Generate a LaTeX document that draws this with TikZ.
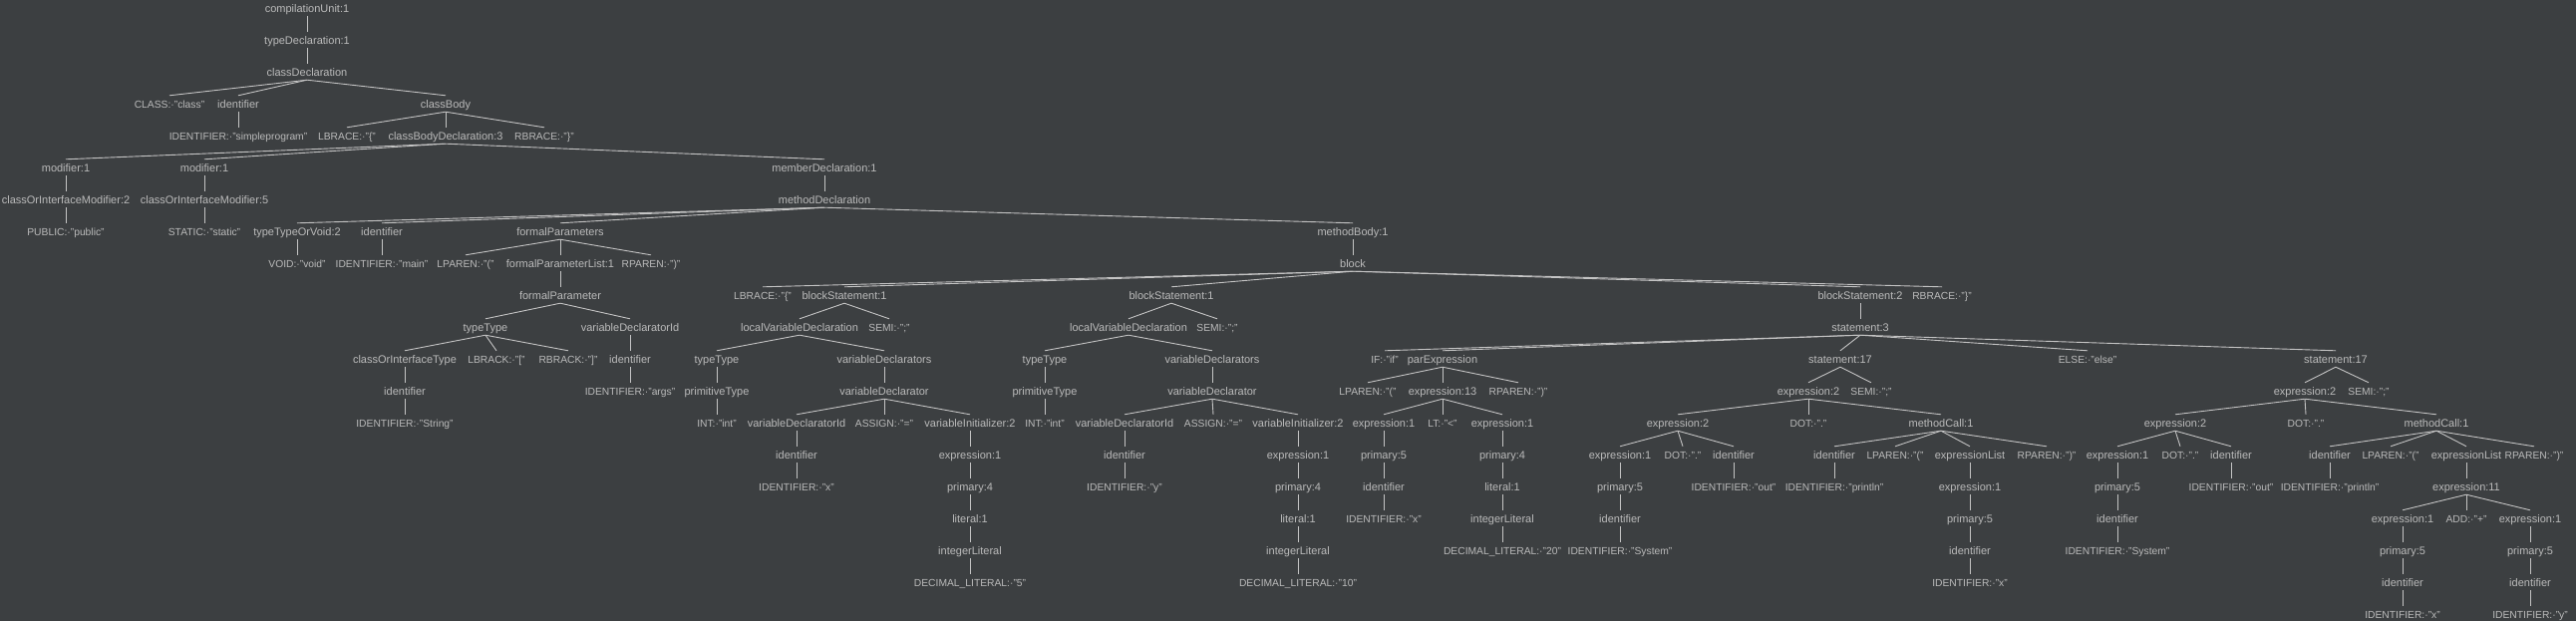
\documentclass[tikz,border=0pt]{standalone}
\usepackage{fontspec}
\setmainfont{Liberation Sans}
\definecolor{bg}{HTML}{3C3F41}
\definecolor{txt}{HTML}{BBBBBB}
\definecolor{ln}{HTML}{C4C4C4}
\tikzset{
  t/.style={text=txt, font=\fontsize{11}{13}\selectfont, inner xsep=0pt, inner ysep=0pt,
            text height=12.5pt, text depth=3.5pt, anchor=base},
  k/.style={t, font=\fontsize{10.3}{13}\selectfont},
  edge/.style={draw=ln, line width=0.9pt}
}
\newcommand\tnode[4]{\node[t] (#1) at (#2,{12.5+32*#3}) {#4};}
\newcommand\knode[4]{\node[k] (#1) at (#2,{12.5+32*#3}) {#4};}
\begin{document}
\begin{tikzpicture}[x=1pt,y=-1pt]
\fill[bg] (0,0) rectangle (2584,623);
\useasboundingbox (0,0) rectangle (2584,623);
% row 0-2
\tnode{cu}{308}{0}{compilationUnit:1}
\tnode{td}{308}{1}{typeDeclaration:1}
\tnode{cd}{308}{2}{classDeclaration}
% row 3
\knode{cls}{170}{3}{CLASS:·"class"}
\tnode{cid}{239}{3}{identifier}
\tnode{cb}{447}{3}{classBody}
% row 4
\knode{cidT}{239}{4}{IDENTIFIER:·"simpleprogram"}
\knode{lb1}{348}{4}{LBRACE:·"\{"}
\tnode{cbd}{447}{4}{classBodyDeclaration:3}
\knode{rb1}{546}{4}{RBRACE:·"\}"}
% row 5
\tnode{mod1}{66}{5}{modifier:1}
\tnode{mod2}{205}{5}{modifier:1}
\tnode{md}{827}{5}{memberDeclaration:1}
% row 6
\tnode{coim1}{66}{6}{classOrInterfaceModifier:2}
\tnode{coim2}{205}{6}{classOrInterfaceModifier:5}
\tnode{mdecl}{827}{6}{methodDeclaration}
% row 7
\knode{pub}{66}{7}{PUBLIC:·"public"}
\knode{sta}{205}{7}{STATIC:·"static"}
\tnode{ttov}{298}{7}{typeTypeOrVoid:2}
\tnode{mid}{383}{7}{identifier}
\tnode{fps}{562}{7}{formalParameters}
\tnode{mb}{1357}{7}{methodBody:1}
% row 8
\knode{void}{298}{8}{VOID:·"void"}
\knode{main}{383}{8}{IDENTIFIER:·"main"}
\knode{lp1}{467}{8}{LPAREN:·"("}
\tnode{fpl}{562}{8}{formalParameterList:1}
\knode{rp1}{653}{8}{RPAREN:·")"}
\tnode{blk}{1357}{8}{block}
% row 9
\tnode{fp}{562}{9}{formalParameter}
\knode{lb2}{765}{9}{LBRACE:·"\{"}
\tnode{bs1}{847}{9}{blockStatement:1}
\tnode{bs2}{1175}{9}{blockStatement:1}
\tnode{bs3}{1866}{9}{blockStatement:2}
\knode{rb2}{1948}{9}{RBRACE:·"\}"}
% row 10
\tnode{tt1}{487}{10}{typeType}
\tnode{vdi1}{632}{10}{variableDeclaratorId}
\tnode{lvd1}{802}{10}{localVariableDeclaration}
\knode{semi1}{892}{10}{SEMI:·";"}
\tnode{lvd2}{1132}{10}{localVariableDeclaration}
\knode{semi2}{1221}{10}{SEMI:·";"}
\tnode{st3}{1866}{10}{statement:3}
% row 11
\tnode{coit}{406}{11}{classOrInterfaceType}
\knode{lbk}{498}{11}{LBRACK:·"["}
\knode{rbk}{570}{11}{RBRACK:·"]"}
\tnode{aid}{632}{11}{identifier}
\tnode{tt2}{719}{11}{typeType}
\tnode{vds1}{887}{11}{variableDeclarators}
\tnode{tt3}{1048}{11}{typeType}
\tnode{vds2}{1216}{11}{variableDeclarators}
\knode{if}{1389}{11}{IF:·"if"}
\tnode{pe}{1447}{11}{parExpression}
\tnode{s17a}{1846}{11}{statement:17}
\knode{else}{2094}{11}{ELSE:·"else"}
\tnode{s17b}{2343}{11}{statement:17}
% row 12
\tnode{sid}{406}{12}{identifier}
\knode{args}{632}{12}{IDENTIFIER:·"args"}
\tnode{pt1}{719}{12}{primitiveType}
\tnode{vd1}{887}{12}{variableDeclarator}
\tnode{pt2}{1048}{12}{primitiveType}
\tnode{vd2}{1216}{12}{variableDeclarator}
\knode{lp2}{1372}{12}{LPAREN:·"("}
\tnode{e13}{1447}{12}{expression:13}
\knode{rp2}{1523}{12}{RPAREN:·")"}
\tnode{e2a}{1814}{12}{expression:2}
\knode{semi3}{1877}{12}{SEMI:·";"}
\tnode{e2b}{2312}{12}{expression:2}
\knode{semi4}{2376}{12}{SEMI:·";"}
% row 13
\knode{str}{406}{13}{IDENTIFIER:·"String"}
\knode{int1}{719}{13}{INT:·"int"}
\tnode{vdid1}{799}{13}{variableDeclaratorId}
\knode{as1}{887}{13}{ASSIGN:·"="}
\tnode{vi1}{973}{13}{variableInitializer:2}
\knode{int2}{1048}{13}{INT:·"int"}
\tnode{vdid2}{1128}{13}{variableDeclaratorId}
\knode{as2}{1217}{13}{ASSIGN:·"="}
\tnode{vi2}{1302}{13}{variableInitializer:2}
\tnode{e1a}{1388}{13}{expression:1}
\knode{lt}{1447}{13}{LT:·"<"}
\tnode{e1b}{1507}{13}{expression:1}
\tnode{e2c}{1683}{13}{expression:2}
\knode{dot1}{1814}{13}{DOT:·"."}
\tnode{mc1}{1947}{13}{methodCall:1}
\tnode{e2d}{2182}{13}{expression:2}
\knode{dot2}{2313}{13}{DOT:·"."}
\tnode{mc2}{2444}{13}{methodCall:1}
% row 14
\tnode{xid1}{799}{14}{identifier}
\tnode{ex1}{973}{14}{expression:1}
\tnode{yid}{1128}{14}{identifier}
\tnode{ex2}{1302}{14}{expression:1}
\tnode{p5a}{1388}{14}{primary:5}
\tnode{p4c}{1507}{14}{primary:4}
\tnode{e1c}{1625}{14}{expression:1}
\knode{dot3}{1688}{14}{DOT:·"."}
\tnode{outid}{1739}{14}{identifier}
\tnode{pid1}{1840}{14}{identifier}
\knode{lp3}{1901}{14}{LPAREN:·"("}
\tnode{el1}{1976}{14}{expressionList}
\knode{rp3}{2053}{14}{RPAREN:·")"}
\tnode{e1d}{2124}{14}{expression:1}
\knode{dot4}{2187}{14}{DOT:·"."}
\tnode{outid2}{2238}{14}{identifier}
\tnode{pid2}{2337}{14}{identifier}
\knode{lp4}{2398}{14}{LPAREN:·"("}
\tnode{el2}{2474}{14}{expressionList}
\knode{rp4}{2542}{14}{RPAREN:·")"}
% row 15
\knode{xT}{799}{15}{IDENTIFIER:·"x"}
\tnode{pr4a}{973}{15}{primary:4}
\knode{yT}{1128}{15}{IDENTIFIER:·"y"}
\tnode{pr4b}{1302}{15}{primary:4}
\tnode{ida}{1388}{15}{identifier}
\tnode{lit3}{1507}{15}{literal:1}
\tnode{p5c}{1625}{15}{primary:5}
\knode{outT}{1739}{15}{IDENTIFIER:·"out"}
\knode{prT1}{1840}{15}{IDENTIFIER:·"println"}
\tnode{e1e}{1976}{15}{expression:1}
\tnode{p5d}{2124}{15}{primary:5}
\knode{outT2}{2238}{15}{IDENTIFIER:·"out"}
\knode{prT2}{2337}{15}{IDENTIFIER:·"println"}
\tnode{e11}{2474}{15}{expression:11}
% row 16
\tnode{lit1}{973}{16}{literal:1}
\tnode{lit2}{1302}{16}{literal:1}
\knode{xT2}{1388}{16}{IDENTIFIER:·"x"}
\tnode{il3}{1507}{16}{integerLiteral}
\tnode{idc}{1625}{16}{identifier}
\tnode{p5e}{1976}{16}{primary:5}
\tnode{idd}{2124}{16}{identifier}
\tnode{e1f}{2410}{16}{expression:1}
\knode{add}{2474}{16}{ADD:·"+"}
\tnode{e1g}{2538}{16}{expression:1}
% row 17
\tnode{il1}{973}{17}{integerLiteral}
\tnode{il2}{1302}{17}{integerLiteral}
\knode{d20}{1507}{17}{DECIMAL\_LITERAL:·"20"}
\knode{sys1}{1625}{17}{IDENTIFIER:·"System"}
\tnode{ide}{1976}{17}{identifier}
\knode{sys2}{2124}{17}{IDENTIFIER:·"System"}
\tnode{p5f}{2410}{17}{primary:5}
\tnode{p5g}{2538}{17}{primary:5}
% row 18
\knode{d5}{973}{18}{DECIMAL\_LITERAL:·"5"}
\knode{d10}{1302}{18}{DECIMAL\_LITERAL:·"10"}
\knode{xT3}{1976}{18}{IDENTIFIER:·"x"}
\tnode{idf}{2410}{18}{identifier}
\tnode{idg}{2538}{18}{identifier}
% row 19
\knode{xT4}{2410}{19}{IDENTIFIER:·"x"}
\knode{yT2}{2538}{19}{IDENTIFIER:·"y"}
% edges
\foreach \p/\c in {cu/td, td/cd, cd/cls, cd/cid, cd/cb, cid/cidT, cb/lb1, cb/cbd, cb/rb1,
  cbd/mod1, cbd/mod2, cbd/md, mod1/coim1, mod2/coim2, md/mdecl, coim1/pub, coim2/sta,
  mdecl/ttov, mdecl/mid, mdecl/fps, mdecl/mb, ttov/void, mid/main, fps/lp1, fps/fpl, fps/rp1,
  mb/blk, fpl/fp, blk/lb2, blk/bs1, blk/bs2, blk/bs3, blk/rb2, fp/tt1, fp/vdi1,
  bs1/lvd1, bs1/semi1, bs2/lvd2, bs2/semi2, bs3/st3, tt1/coit, tt1/lbk, tt1/rbk, vdi1/aid,
  lvd1/tt2, lvd1/vds1, lvd2/tt3, lvd2/vds2, st3/if, st3/pe, st3/s17a, st3/else, st3/s17b,
  coit/sid, aid/args, tt2/pt1, vds1/vd1, tt3/pt2, vds2/vd2, pe/lp2, pe/e13, pe/rp2,
  s17a/e2a, s17a/semi3, s17b/e2b, s17b/semi4, sid/str, pt1/int1, vd1/vdid1, vd1/as1, vd1/vi1,
  pt2/int2, vd2/vdid2, vd2/as2, vd2/vi2, e13/e1a, e13/lt, e13/e1b, e2a/e2c, e2a/dot1, e2a/mc1,
  e2b/e2d, e2b/dot2, e2b/mc2, vdid1/xid1, vi1/ex1, vdid2/yid, vi2/ex2, e1a/p5a, e1b/p4c,
  e2c/e1c, e2c/dot3, e2c/outid, mc1/pid1, mc1/lp3, mc1/el1, mc1/rp3, e2d/e1d, e2d/dot4,
  e2d/outid2, mc2/pid2, mc2/lp4, mc2/el2, mc2/rp4, xid1/xT, ex1/pr4a, yid/yT, ex2/pr4b,
  p5a/ida, p4c/lit3, e1c/p5c, outid/outT, pid1/prT1, el1/e1e, e1d/p5d, outid2/outT2,
  pid2/prT2, el2/e11, pr4a/lit1, pr4b/lit2, ida/xT2, lit3/il3, p5c/idc, e1e/p5e, p5d/idd,
  e11/e1f, e11/add, e11/e1g, lit1/il1, lit2/il2, il3/d20, idc/sys1, p5e/ide, idd/sys2,
  e1f/p5f, e1g/p5g, il1/d5, il2/d10, ide/xT3, p5f/idf, p5g/idg, idf/xT4, idg/yT2}
  \draw[edge] (\p.south) -- (\c.north);
\end{tikzpicture}
\end{document}
